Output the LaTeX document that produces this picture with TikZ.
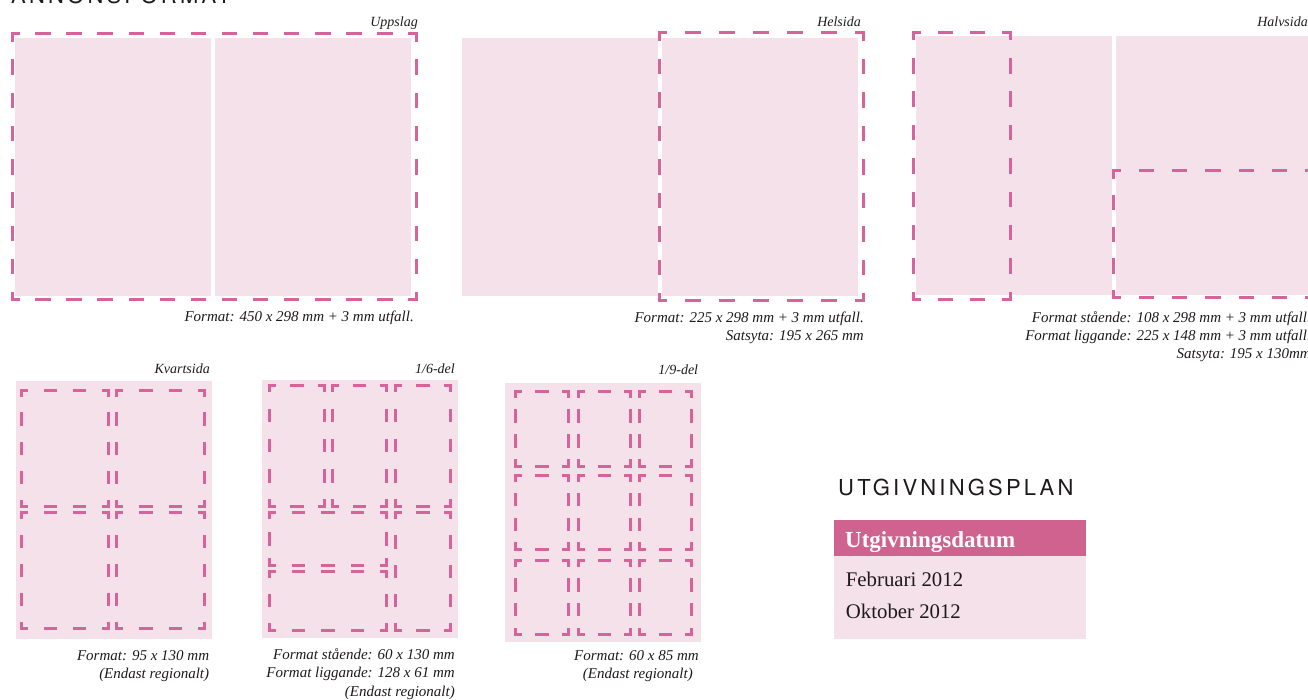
\documentclass[tikz,border=0pt]{standalone}
\usepackage{fontspec}
\setmainfont{Liberation Serif}
\newfontfamily\headfont[LetterSpace=14.5]{TeX Gyre Heros}
\usepackage{tikz}
\definecolor{AdPink}{HTML}{D6649A}
\definecolor{BarPink}{HTML}{D0628F}
\definecolor{PagePink}{HTML}{F5E1EA}
\definecolor{Ink}{HTML}{1E1A1C}

% one side of a dashed ad frame, dashes fitted so that both corners get a half dash
\newcommand{\adside}[5]{%
  \pgfmathsetmacro\adLen{abs(#3-#1)+abs(#4-#2)}%
  \pgfmathsetmacro\adNum{max(1,round(\adLen/#5))}%
  \pgfmathsetmacro\adPer{\adLen/\adNum}%
  \pgfmathsetmacro\adOn{#5/2-0.5-3}%
  \pgfmathsetmacro\adOff{\adPer-\adOn}%
  \pgfmathsetmacro\adPhase{\adOn/2}%
  \draw[frame,dash pattern=on \adOn pt off \adOff pt,dash phase=\adPhase pt]
    (#1,#2) -- (#3,#4);}
% whole frame: x1, y1, x2, y2, dash period
\newcommand{\adbox}[5]{%
  \adside{#1}{#2}{#3}{#2}{#5}%
  \adside{#3}{#2}{#3}{#4}{#5}%
  \adside{#3}{#4}{#1}{#4}{#5}%
  \adside{#1}{#4}{#1}{#2}{#5}}

\begin{document}
\begin{tikzpicture}[x=1pt,y=-1pt,
  page/.style={fill=PagePink},
  frame/.style={draw=AdPink,line width=3pt,line cap=rect},
  lbl/.style={font=\fontsize{14}{17}\selectfont\itshape,text=Ink,inner sep=0pt,anchor=base east},
  capt/.style={font=\fontsize{15}{18.2}\selectfont\itshape,text=Ink,inner sep=0pt,align=right,anchor=base east},
  hdr/.style={font=\headfont\fontsize{22}{26}\selectfont,text=Ink,inner sep=0pt,anchor=base west},
  thead/.style={font=\fontsize{23}{27}\selectfont\bfseries,text=white,inner sep=0pt,anchor=base west},
  tcell/.style={font=\fontsize{20.8}{25}\selectfont,text=Ink,inner sep=0pt,anchor=base west}
]
  \useasboundingbox (0,0) rectangle (1308,700);
  \clip (0,0) rectangle (1308,700);

  % heading, cut by the top edge
  \node[hdr] (annons) at (11,4) {ANNONSFORMAT};

  % Uppslag
  \fill[page] (15,38) rectangle (211,296);
  \fill[page] (215,38) rectangle (411,296);
  \adbox{12}{34}{416}{300}{32}
  \node[lbl] (uppslag) at (418,27) {Uppslag};
  \node[capt] (uppslagcap) at (414,321.5) {Format: 450 x 298 mm + 3 mm utfall.};

  % Helsida (captions are placed by their last line)
  \fill[page] (462,38) rectangle (657.5,296);
  \fill[page] (662,38) rectangle (858,296);
  \adbox{659}{33}{863}{301}{32}
  \node[lbl] (helsida) at (861,27) {Helsida};
  \node[capt] (helsidacap) at (864,340.5) {Format: 225 x 298 mm + 3 mm utfall.\\Satsyta: 195 x 265 mm};

  % Halvsida
  \fill[page] (916,36) rectangle (1112,295);
  \fill[page] (1116,36) rectangle (1320,295);
  \adbox{913}{32.5}{1010}{299.5}{32}
  \adbox{1113}{171}{1313}{298}{32}
  \node[lbl] (halvsida) at (1308,27) {Halvsida};
  \node[capt] (halvsidacap) at (1311,358.5) {Format stående: 108 x 298 mm + 3 mm utfall.\\Format liggande: 225 x 148 mm + 3 mm utfall.\\Satsyta: 195 x 130mm};

  % Kvartsida
  \fill[page] (16,381) rectangle (211.5,639);
  \adbox{21.7}{390}{108.7}{506.7}{28}
  \adbox{116.7}{390}{204.7}{506.7}{28}
  \adbox{21.7}{512.7}{108.7}{628.7}{28}
  \adbox{116.7}{512.7}{204.7}{628.7}{28}
  \node[lbl] (kvartsida) at (210,373.3) {Kvartsida};
  \node[capt] (kvartsidacap) at (209.3,678.3) {Format: 95 x 130 mm\\(Endast regionalt)};

  % 1/6-del: three standing on top, two lying and one standing below
  \fill[page] (262,380) rectangle (457.7,638);
  \adbox{269.3}{385}{324.7}{506}{28}
  \adbox{332.3}{385}{386.7}{506}{28}
  \adbox{395}{385}{450.7}{506}{28}
  \adbox{269.3}{512.7}{386.7}{565}{28}
  \adbox{269.3}{571}{386.7}{630}{28}
  \adbox{395}{512.7}{450.7}{630}{28}
  \node[lbl] (sjattedel) at (455,373) {1/6-del};
  \node[capt] (sjattedelcap) at (455,696) {Format stående: 60 x 130 mm\\Format liggande: 128 x 61 mm\\(Endast regionalt)};

  % 1/9-del
  \fill[page] (505,383.3) rectangle (700.7,641.7);
  \foreach \xa/\xb in {515.7/568.3,578.3/630.7,639.3/691.7}
    \foreach \ya/\yb in {391/466,475/549,560/634.3}
      {\adbox{\xa}{\ya}{\xb}{\yb}{28}}
  \node[lbl] (niondedel) at (698.3,374) {1/9-del};
  \node[capt] (niondedelcap) at (699,678.3) {Format: 60 x 85 mm\\(Endast regionalt)\hspace*{6pt}};

  % Utgivningsplan
  \node[hdr] (plan) at (838,495) {UTGIVNINGSPLAN};
  \fill[BarPink] (834,520) rectangle (1086,556);
  \fill[page] (834,556) rectangle (1086,639);
  \node[thead] (datumhead) at (845,547.3) {Utgivningsdatum};
  \node[tcell] (feb) at (845.7,586) {Februari 2012};
  \node[tcell] (okt) at (845.7,618.3) {Oktober 2012};
\end{tikzpicture}
\end{document}
